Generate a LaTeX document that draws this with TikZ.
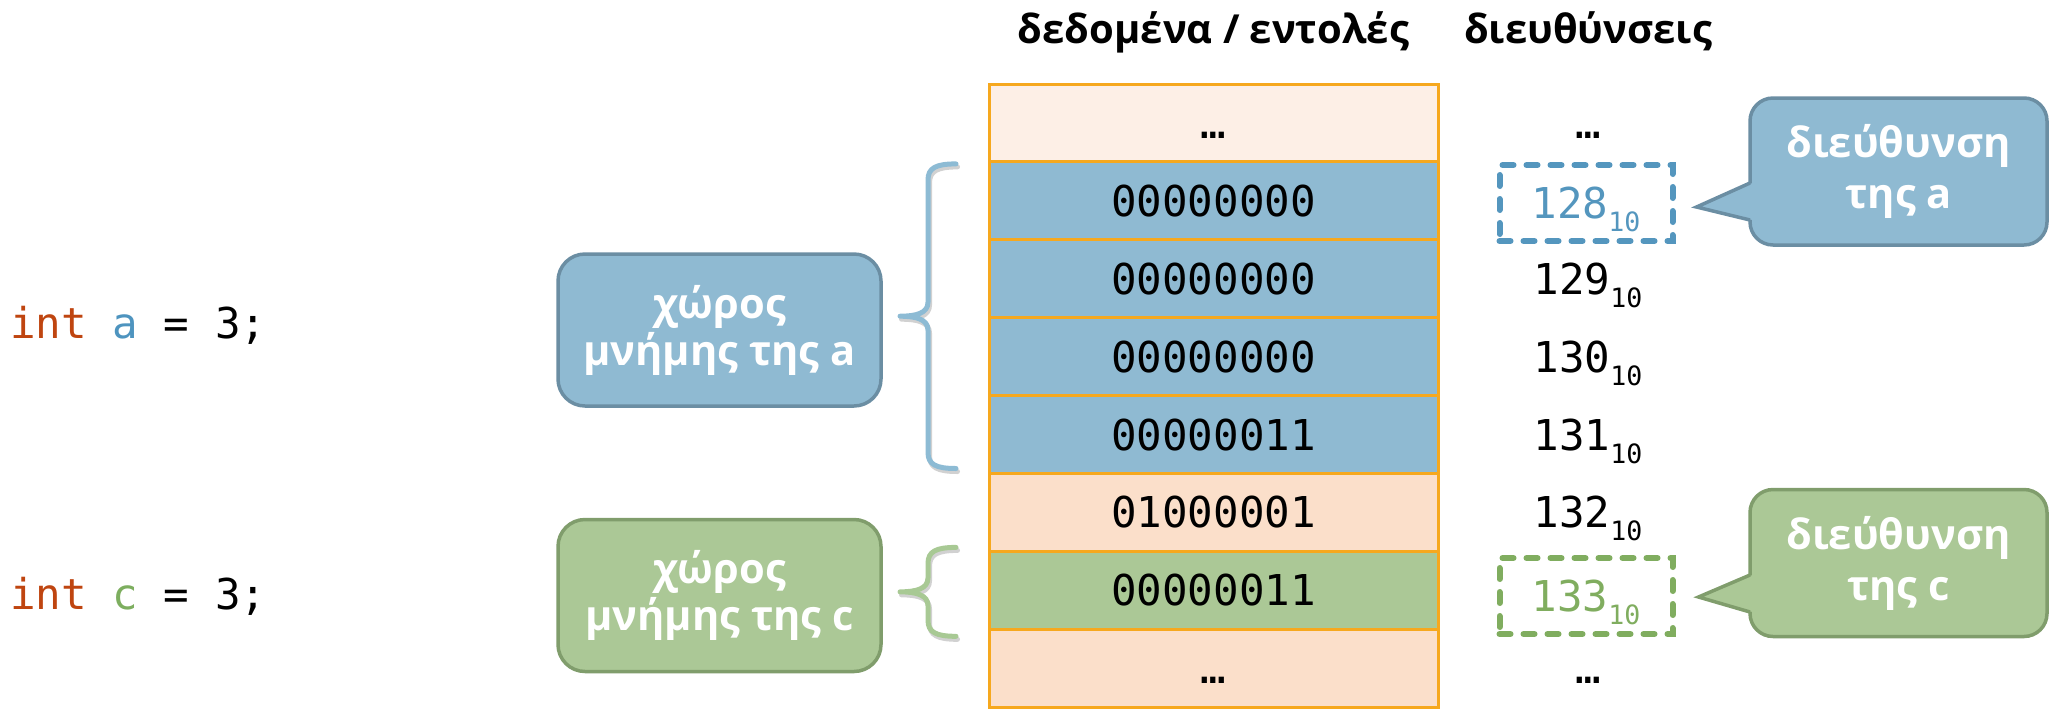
\documentclass[tikz,border=0pt]{standalone}
\usepackage{fontspec}
\setmainfont{Open Sans}
\newfontfamily\codefont{DejaVu Sans Mono}
\usetikzlibrary{calc}

\definecolor{cellblue}{HTML}{8FBAD2}
\definecolor{cellgreen}{HTML}{ABC896}
\definecolor{cellpeach}{HTML}{FBDFCA}
\definecolor{celltop}{HTML}{FDEFE6}
\definecolor{gridorange}{HTML}{F6A81E}
\definecolor{edgeblue}{HTML}{6B8EA3}
\definecolor{edgegreen}{HTML}{809D6C}
\definecolor{dashblue}{HTML}{5496BE}
\definecolor{dashgreen}{HTML}{80AD5F}
\definecolor{keyword}{HTML}{BF4510}
\definecolor{varblue}{HTML}{4E94BF}
\definecolor{vargreen}{HTML}{7DAE5F}
\definecolor{braceblue}{HTML}{8DBBD4}
\definecolor{bracegreen}{HTML}{A8C994}

% base-10 subscript after an address
\newcommand\tensub{\raisebox{-6.5pt}{\fontsize{13.3}{14}\selectfont 10}}

% curly brace opening to the left: #1 top end, #2 middle of the ends, #3 bottom end
\newcommand\curlypath[3]{%
  (#1) .. controls ($(#1)+(-20,0)$) and ($(#1)+(-28,4)$) .. ($(#1)+(-28,16)$)
  -- ($(#2)+(-28,-14)$) .. controls ($(#2)+(-28,-3)$) and ($(#2)+(-40,0)$) .. ($(#2)+(-56,0)$)
  .. controls ($(#2)+(-40,0)$) and ($(#2)+(-28,3)$) .. ($(#2)+(-28,14)$)
  -- ($(#3)+(-28,-16)$) .. controls ($(#3)+(-28,-4)$) and ($(#3)+(-20,0)$) .. (#3)}

\tikzset{
  cell/.style={draw=gridorange, line width=1.5pt, minimum width=224.5pt,
    minimum height=38.95pt, inner sep=0pt, outer sep=0pt,
    font=\codefont\fontsize{21.25}{24}\selectfont, text height=15.5pt, text depth=0pt},
  addr/.style={inner sep=0pt, outer sep=0pt, minimum width=86.5pt, minimum height=38pt,
    font=\codefont\fontsize{21.25}{24}\selectfont, text height=15.5pt, text depth=0pt},
  dashbox/.style={draw=#1, text=#1, line width=3pt, dash pattern=on 5.5pt off 6.5pt,
    line cap=round},
  head/.style={font=\bfseries\fontsize{20}{24}\selectfont, anchor=base, inner sep=0pt},
  code/.style={font=\codefont\fontsize{21.25}{24}\selectfont, anchor=base west, inner sep=0pt},
  tag/.style={rounded corners=13.5pt, line width=1.75pt, minimum width=161.5pt,
    minimum height=76pt, align=center, text=white, inner sep=0pt, outer sep=0pt,
    font=\bfseries\fontsize{20.8}{23.5}\selectfont},
  note/.style={rounded corners=11.5pt, line width=1.75pt, minimum width=148.5pt,
    minimum height=73.5pt, align=center, text=white, inner sep=0pt, outer sep=0pt,
    font=\bfseries\fontsize{20.8}{25.5}\selectfont},
  bracestroke/.style={line width=2.5pt, line cap=round, line join=round},
  braceshade/.style={bracestroke, draw=black, opacity=0.18,
    transform canvas={shift={(1.5,3)}}},
}

\begin{document}
\begin{tikzpicture}[x=0.5pt, y=-0.5pt]
\useasboundingbox (0,0) rectangle (2055,708);

% column headings
\node[head] (hdata) at (1213.5,43) {δεδομένα / εντολές};
\node[head] (haddr) at (1588,43) {διευθύνσεις};

% memory cells
\node[cell, fill=celltop]   (m0) at (1213.5,122.95) {…};
\node[cell, fill=cellblue]  (m1) at (1213.5,200.85) {00000000};
\node[cell, fill=cellblue]  (m2) at (1213.5,278.75) {00000000};
\node[cell, fill=cellblue]  (m3) at (1213.5,356.65) {00000000};
\node[cell, fill=cellblue]  (m4) at (1213.5,434.55) {00000011};
\node[cell, fill=cellpeach] (m5) at (1213.5,512.45) {01000001};
\node[cell, fill=cellgreen] (m6) at (1213.5,590.35) {00000011};
\node[cell, fill=cellpeach] (m7) at (1213.5,668.25) {…};

% addresses
\node[addr] (a0) at (1588,122.95) {…};
\node[addr, dashbox=dashblue] (a1) at (1586,203) {128\tensub};
\node[addr] (a2) at (1588,278.75) {129\tensub};
\node[addr] (a3) at (1588,356.65) {130\tensub};
\node[addr] (a4) at (1588,434.55) {131\tensub};
\node[addr] (a5) at (1588,512.45) {132\tensub};
\node[addr, dashbox=dashgreen] (a6) at (1586,596) {133\tensub};
\node[addr] (a7) at (1588,668.25) {…};

% declarations
\node[code] (codeA) at (10,338) {\textcolor{keyword}{int} \textcolor{varblue}{a} = 3;};
\node[code] (codeC) at (10,609) {\textcolor{keyword}{int} \textcolor{vargreen}{c} = 3;};

% storage labels
\node[tag, fill=cellblue, draw=edgeblue] (tagA) at (719.5,330) {χώρος\\μνήμης της a};
\node[tag, fill=cellgreen, draw=edgegreen] (tagC) at (719.5,595.5) {χώρος\\μνήμης της c};

% braces from the labels to the cells
\coordinate (bAt) at ($(m1.north west)+(-33,2)$);
\coordinate (bAb) at ($(m4.south west)+(-33,-5)$);
\coordinate (bAm) at ($(bAt)!0.5!(bAb)$);
\coordinate (bCt) at ($(m6.north west)+(-33,-4)$);
\coordinate (bCb) at ($(m6.south west)+(-33,7)$);
\coordinate (bCm) at ($(bCt)!0.5!(bCb)$);
\draw[braceshade] \curlypath{bAt}{bAm}{bAb};
\draw[braceshade] \curlypath{bCt}{bCm}{bCb};
\draw[bracestroke, draw=braceblue] \curlypath{bAt}{bAm}{bAb};
\draw[bracestroke, draw=bracegreen] \curlypath{bCt}{bCm}{bCb};

% address callouts
\node[note, fill=cellblue, draw=edgeblue] (noteA) at (1898.5,171.5) {διεύθυνση\\της a};
\node[note, fill=cellgreen, draw=edgegreen] (noteC) at (1898.5,563) {διεύθυνση\\της c};

\coordinate (tipA) at ($(a1.east)+(24,4)$);
\coordinate (tipC) at ($(a6.east)+(26,1)$);
\fill[cellblue] ($(noteA.west)+(2.5,11.5)$) -- (tipA) -- ($(noteA.west)+(2.5,48.5)$) -- cycle;
\draw[edgeblue, line width=1.75pt] ($(noteA.west)+(0,11.5)$) -- (tipA) -- ($(noteA.west)+(0,48.5)$);
\fill[cellgreen] ($(noteC.west)+(2.5,12)$) -- (tipC) -- ($(noteC.west)+(2.5,49)$) -- cycle;
\draw[edgegreen, line width=1.75pt] ($(noteC.west)+(0,12)$) -- (tipC) -- ($(noteC.west)+(0,49)$);
\end{tikzpicture}
\end{document}
